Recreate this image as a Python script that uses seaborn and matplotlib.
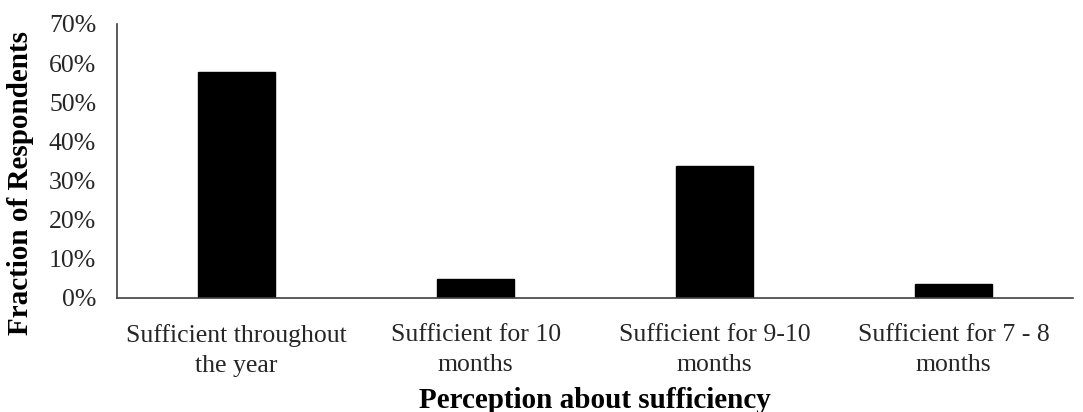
import matplotlib
matplotlib.use("Agg")
import matplotlib.pyplot as plt
import seaborn as sns
import pandas as pd
from matplotlib.ticker import PercentFormatter

categories = [
    "Sufficient throughout\nthe year",
    "Sufficient for 10\nmonths",
    "Sufficient for 9-10\nmonths",
    "Sufficient for 7 - 8\nmonths",
]
fractions = [57.6, 4.8, 33.7, 3.6]
yticks = [0, 10, 20, 30, 40, 50, 60, 70]

sns.set_theme(style="white")
plt.rcParams["font.family"] = ["Liberation Serif", "DejaVu Serif"]

df = pd.DataFrame({"category": categories, "fraction": fractions})

fig = plt.figure(figsize=(10.83, 4.12), dpi=100)
ax = fig.add_axes([0.108, 0.277, 0.883, 0.665])

sns.barplot(data=df, x="category", y="fraction", color="black",
            width=0.32, ax=ax, saturation=1, edgecolor="black")

ax.set_ylim(0, 70)
ax.set_yticks(yticks)
ax.yaxis.set_major_formatter(PercentFormatter(decimals=0))
ax.tick_params(axis="both", labelsize=18.5, colors="#262626", length=0)
ax.tick_params(axis="y", pad=15)
ax.tick_params(axis="x", pad=19)
for lbl in ax.get_xticklabels():
    lbl.set_linespacing(1.45)

for side in ["top", "right"]:
    ax.spines[side].set_visible(False)
for side in ["left", "bottom"]:
    ax.spines[side].set_color("#404040")
    ax.spines[side].set_linewidth(1.2)

ax.set_xlabel("Perception about sufficiency", fontsize=21, fontweight="bold",
              color="black", labelpad=7)
ax.set_ylabel("Fraction of Respondents", fontsize=21, fontweight="bold",
              color="black")
ax.yaxis.set_label_coords(-0.087, 0.42)

fig.savefig("out.png", dpi=100)
